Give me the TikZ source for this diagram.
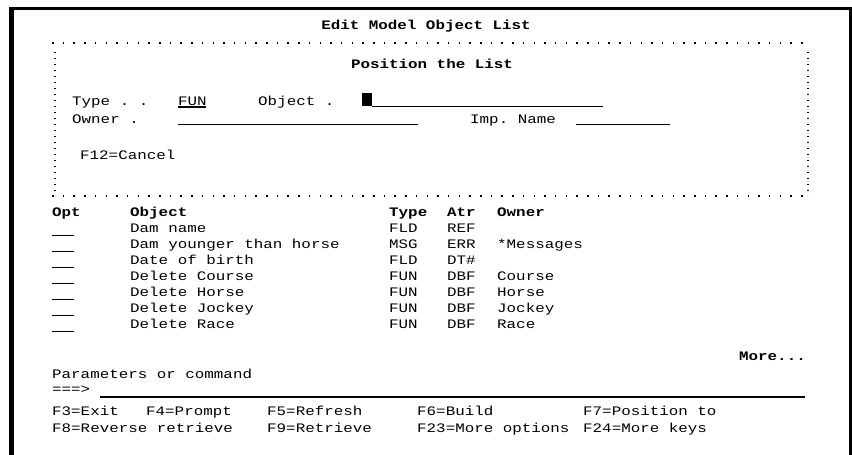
\documentclass[tikz,border=0pt]{standalone}
\usepackage{fontspec}
\setmonofont[FakeStretch=1.22]{Liberation Mono}
\begin{document}
\begin{tikzpicture}[x=1pt,y=-1pt,
  txt/.style={anchor=base west, inner sep=0pt, font=\ttfamily\fontsize{13}{13}\selectfont},
  hd/.style={txt, font=\ttfamily\bfseries\fontsize{13}{13}\selectfont},
  fieldline/.style={line width=1.1pt},
  optline/.style={line width=1pt},
  dotrow/.style={line width=1.5pt, dash pattern=on 1.5pt off 9.2pt},
  dotcol/.style={line width=1.2pt, dash pattern=on 1.4pt off 4.6pt}]
\useasboundingbox (0,0) rectangle (852,455);
\fill[white] (0,0) rectangle (852,455);

% screen frame (open at the bottom)
\fill[black] (9,7) rectangle (852,10);
\fill[black] (9,7) rectangle (14,455);
\fill[black] (849,7) rectangle (852,455);

% window title
\node[hd, anchor=base] (title) at (426,30) {Edit Model Object List};

% pop-up window outline
\draw[dotrow] (52,43) -- (810,43);
\draw[dotrow] (52,196) -- (810,196);
\draw[dotcol] (55,52) -- (55,196);
\draw[dotcol] (808,52) -- (808,196);

\node[hd, anchor=base] (poshead) at (432,68) {Position the List};

% position fields
\node[txt] (typelbl) at (72,105) {Type . .};
\node[txt] (typeval) at (178,105) {FUN};
\draw[fieldline] (typeval.base west) ++(0,2) -- ++(28,0);
\node[txt] (objlbl) at (258,105) {Object .};
\fill[black] (362,93) rectangle (372,106);
\coordinate (objA) at (372,106.5);
\coordinate (objB) at (603,106.5);
\draw[fieldline] (objA) -- (objB);

\node[txt] (ownlbl) at (72,123) {Owner .};
\coordinate (ownA) at (178,124.5);
\coordinate (ownB) at (418,124.5);
\draw[fieldline] (ownA) -- (ownB);
\node[txt] (implbl) at (470,123) {Imp. Name};
\coordinate (impA) at (576,124.5);
\coordinate (impB) at (670,124.5);
\draw[fieldline] (impA) -- (impB);

\node[txt] (cancel) at (80,159) {F12=Cancel};

% list column headings
\node[hd] (hopt) at (52,216) {Opt};
\node[hd] (hobj) at (130,216) {Object};
\node[hd] (htyp) at (389,216) {Type};
\node[hd] (hatr) at (447,216) {Atr};
\node[hd] (hown) at (497,216) {Owner};

% list rows
\foreach \i/\o/\t/\a/\w in {
  0/Dam name/FLD/REF/,
  1/Dam younger than horse/MSG/ERR/*Messages,
  2/Date of birth/FLD/DT\#/,
  3/Delete Course/FUN/DBF/Course,
  4/Delete Horse/FUN/DBF/Horse,
  5/Delete Jockey/FUN/DBF/Jockey,
  6/Delete Race/FUN/DBF/Race}{
  \pgfmathsetmacro{\yy}{232+16*\i}
  \draw[optline] (52,\yy+3) -- (74,\yy+3);
  \node[txt] (obj\i) at (130,\yy) {\o};
  \node[txt] (typ\i) at (389,\yy) {\t};
  \node[txt] (atr\i) at (447,\yy) {\a};
  \node[txt] (own\i) at (497,\yy) {\w};
}

\node[hd, anchor=base east] (more) at (806,360) {More...};

% command line
\node[txt] (params) at (52,378) {Parameters or command};
\node[txt] (prompt) at (52,393) {===>};
\coordinate (cmdA) at (100,397);
\coordinate (cmdB) at (805,397);
\draw[fieldline] (cmdA) -- (cmdB);

% function keys
\node[txt] (f3) at (52,415) {F3=Exit};
\node[txt] (f4) at (146,415) {F4=Prompt};
\node[txt] (f5) at (267,415) {F5=Refresh};
\node[txt] (f6) at (417,415) {F6=Build};
\node[txt] (f7) at (583,415) {F7=Position to};
\node[txt] (f8) at (52,432) {F8=Reverse retrieve};
\node[txt] (f9) at (267,432) {F9=Retrieve};
\node[txt] (f23) at (417,432) {F23=More options};
\node[txt] (f24) at (583,432) {F24=More keys};
\end{tikzpicture}
\end{document}
